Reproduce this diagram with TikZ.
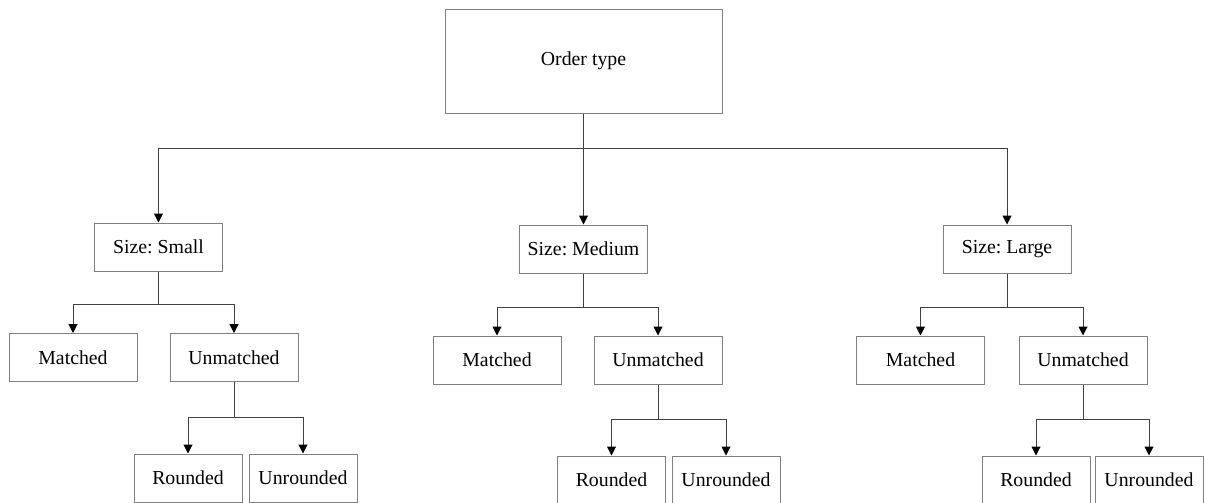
\documentclass[tikz,border=0pt]{standalone}
\usepackage{fontspec}
\setmainfont{Liberation Serif}
\usetikzlibrary{positioning,arrows.meta}

\begin{document}
\frenchspacing
\begin{tikzpicture}[x=0.5pt, y=-0.5pt, font=\fontsize{9.9}{11}\selectfont,
  box/.style={draw=black!50, line width=0.5pt, minimum width=64pt, minimum height=24pt, inner sep=0pt},
  leaf/.style={box, minimum width=54pt},
  link/.style={draw=black!75, line width=0.5pt},
  arr/.style={link, -{Triangle[width=4.5pt,length=4.5pt,color=black]}}]
\useasboundingbox (0,0) rectangle (1205,503);

% root
\node[box, minimum width=138.5pt, minimum height=52pt] (order) at (583.5,61) {Order type};

% sizes
\node[box] (small)  at (158.5,247) {Size: Small};
\node[box] (medium) at (583.5,249) {Size: Medium};
\node[box] (large)  at (1007,249)  {Size: Large};

% matched / unmatched
\node[box] (smatch)   at (73,357.5)   {Matched};
\node[box] (sunmatch) at (234,357.5)  {Unmatched};
\node[box] (mmatch)   at (497,360)    {Matched};
\node[box] (munmatch) at (658,360)    {Unmatched};
\node[box] (lmatch)   at (920.5,360)  {Matched};
\node[box] (lunmatch) at (1083,360)   {Unmatched};

% rounding
\node[leaf] (sround)   at (188,478)    {Rounded};
\node[leaf] (sunround) at (303,478)    {Unrounded};
\node[leaf] (mround)   at (611.5,480)  {Rounded};
\node[leaf] (munround) at (726,480)    {Unrounded};
\node[leaf] (lround)   at (1036,480)   {Rounded};
\node[leaf] (lunround) at (1149,480)   {Unrounded};

% junctions
\coordinate (j0) at (583.5,148);
\coordinate (js) at (158.5,304);
\coordinate (jm) at (583.5,307);
\coordinate (jl) at (1007,307);
\coordinate (ks) at (234,417);
\coordinate (km) at (658,419);
\coordinate (kl) at (1083,419);

% connectors
\draw[link] (order.south) -- (j0);
\draw[arr] (j0) -| (small.north);
\draw[arr] (j0) -- (medium.north);
\draw[arr] (j0) -| (large.north);

\draw[link] (small.south) -- (js);
\draw[arr] (js) -| (smatch.north);
\draw[arr] (js) -| (sunmatch.north);
\draw[link] (medium.south) -- (jm);
\draw[arr] (jm) -| (mmatch.north);
\draw[arr] (jm) -| (munmatch.north);
\draw[link] (large.south) -- (jl);
\draw[arr] (jl) -| (lmatch.north);
\draw[arr] (jl) -| (lunmatch.north);

\draw[link] (sunmatch.south) -- (ks);
\draw[arr] (ks) -| (sround.north);
\draw[arr] (ks) -| (sunround.north);
\draw[link] (munmatch.south) -- (km);
\draw[arr] (km) -| (mround.north);
\draw[arr] (km) -| (munround.north);
\draw[link] (lunmatch.south) -- (kl);
\draw[arr] (kl) -| (lround.north);
\draw[arr] (kl) -| (lunround.north);
\end{tikzpicture}
\end{document}
